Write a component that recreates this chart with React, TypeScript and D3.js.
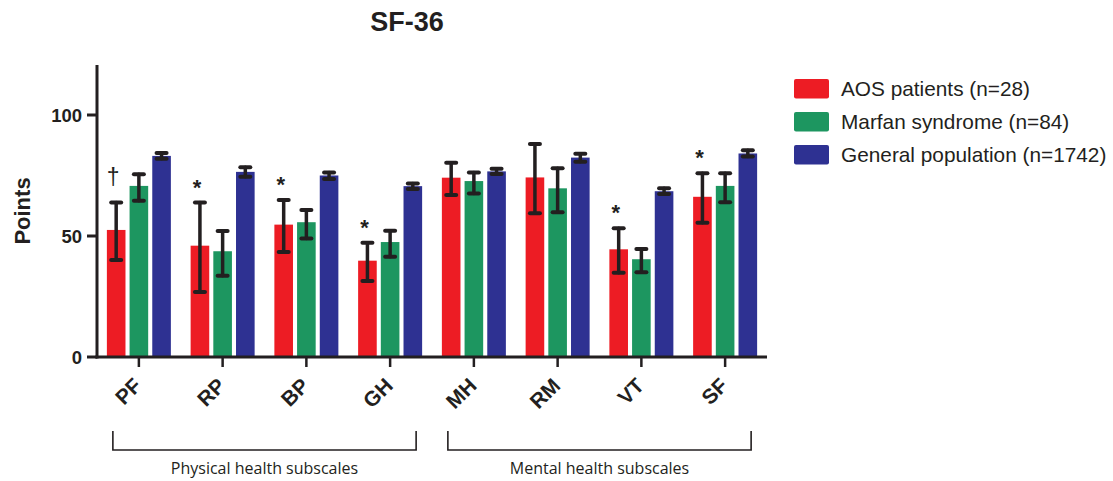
import React from 'react';
import * as d3 from 'd3';

const categories = ['PF', 'RP', 'BP', 'GH', 'MH', 'RM', 'VT', 'SF'];
const seriesNames = ['AOS patients (n=28)', 'Marfan syndrome (n=84)', 'General population (n=1742)'];
const aosMean = [52.5, 46, 54.7, 39.8, 74.1, 74.2, 44.5, 66.2];
const aosLow = [40.1, 26.9, 43.4, 31.4, 66.9, 59.4, 34.8, 55.5];
const aosHigh = [63.8, 63.8, 64.9, 47.2, 80.3, 88, 53.2, 75.9];
const marfanMean = [70.7, 43.7, 55.7, 47.5, 72.7, 69.7, 40.4, 70.7];
const marfanLow = [64.6, 33.6, 49, 41.4, 67.6, 59.8, 35, 63.9];
const marfanHigh = [75.5, 52.1, 60.7, 52.2, 76.2, 78, 44.6, 75.9];
const genMean = [83.1, 76.5, 75, 70.6, 76.7, 82.4, 68.5, 84.1];
const genLow = [81.9, 74.5, 73.6, 69.4, 75.6, 80.7, 67.4, 82.8];
const genHigh = [84.3, 78.4, 76.2, 71.7, 77.8, 84, 69.7, 85.4];
const significance = ['†', '*', '*', '*', '', '', '*', '*'];
const yTicks = [0, 50, 100];
const groupLabels = ['Physical health subscales', 'Mental health subscales'];
const groupFrom = ['PF', 'MH'];
const groupTo = ['GH', 'SF'];

const colors = ['#ED1C24', '#1D9660', '#2E3192'];
const ink = '#231F20';

export default function App() {
  const x = d3.scaleBand<string>().domain(categories).range([97, 767]).paddingInner(0).paddingOuter(0);
  const inner = d3.scaleBand<number>().domain([0, 1, 2]).range([-32, 32]).paddingInner(0.18).paddingOuter(0);
  const y = d3.scaleLinear().domain([0, 120]).range([357, 66.6]);
  const means = [aosMean, marfanMean, genMean];
  const lows = [aosLow, marfanLow, genLow];
  const highs = [aosHigh, marfanHigh, genHigh];
  const cx = (c: string) => (x(c) as number) + x.bandwidth() / 2;
  const bw = inner.bandwidth();
  const sans = '"Liberation Sans", Arial, sans-serif';

  return (
    <div style={{ position: 'absolute', left: 0, top: 0 }}>
      <svg width={1113} height={481} style={{ display: 'block', background: '#fff' }}>
        <text x={407} y={31} textAnchor="middle" fontFamily={sans} fontWeight="bold" fontSize={27} fill={ink}>SF-36</text>

        {/* bars */}
        {categories.map((c, i) => (
          <g key={c}>
            {[0, 1, 2].map((s) => {
              const bx = cx(c) + (inner(s) as number);
              return (
                <rect key={s} x={bx} y={y(means[s][i])} width={bw} height={y(0) - y(means[s][i])} fill={colors[s]} />
              );
            })}
            {[0, 1, 2].map((s) => {
              const mx = cx(c) + (inner(s) as number) + bw / 2;
              return (
                <g key={'e' + s} stroke={ink} strokeLinecap="round">
                  <line x1={mx} x2={mx} y1={y(highs[s][i])} y2={y(lows[s][i])} strokeWidth={3.5} />
                  <line x1={mx - 5} x2={mx + 5} y1={y(highs[s][i])} y2={y(highs[s][i])} strokeWidth={4} />
                  <line x1={mx - 5} x2={mx + 5} y1={y(lows[s][i])} y2={y(lows[s][i])} strokeWidth={4} />
                </g>
              );
            })}
            {significance[i] && (
              <text
                x={cx(c) + (inner(0) as number) + bw / 2 - 3}
                y={significance[i] === '*' ? y(aosHigh[i]) - 8 : y(aosHigh[i]) - 18}
                textAnchor="middle"
                fontFamily={sans}
                fontWeight={significance[i] === '*' ? 'bold' : 'normal'}
                fontSize={significance[i] === '*' ? 22 : 23}
                fill={ink}
              >
                {significance[i]}
              </text>
            )}
          </g>
        ))}

        {/* y axis */}
        <line x1={97} x2={97} y1={65} y2={358.5} stroke={ink} strokeWidth={3} />
        {yTicks.map((t) => (
          <g key={t}>
            <line x1={87} x2={97} y1={y(t)} y2={y(t)} stroke={ink} strokeWidth={3} />
            <text x={82} y={y(t) + 6.7} textAnchor="end" fontFamily={sans} fontWeight="bold" fontSize={18.5} fill={ink}>{t}</text>
          </g>
        ))}
        <text transform={`translate(30,211) rotate(-90)`} textAnchor="middle" fontFamily={sans} fontWeight="bold" fontSize={22} fill={ink}>Points</text>

        {/* x axis */}
        <line x1={95.5} x2={767} y1={357} y2={357} stroke={ink} strokeWidth={3} />
        {categories.map((c) => (
          <g key={'t' + c}>
            <line x1={cx(c)} x2={cx(c)} y1={357} y2={367} stroke={ink} strokeWidth={2.5} />
            <text transform={`translate(${cx(c) + 4},387) rotate(-45)`} textAnchor="end" fontFamily={sans} fontWeight="bold" fontSize={21} fill={ink}>{c}</text>
          </g>
        ))}

        {/* group brackets */}
        {groupLabels.map((g, k) => {
          const x0 = cx(groupFrom[k]) - 26;
          const x1 = cx(groupTo[k]) + 26;
          return (
            <g key={g}>
              <path d={`M${x0},431 V450 H${x1} V431`} fill="none" stroke={ink} strokeWidth={1.6} />
              <text x={(x0 + x1) / 2} y={474} textAnchor="middle" fontFamily='"Open Sans", sans-serif' fontSize={16} fill={ink}>{g}</text>
            </g>
          );
        })}

        {/* legend */}
        {seriesNames.map((n, s) => (
          <g key={n} transform={`translate(794,${79 + s * 33})`}>
            <rect x={0} y={0} width={35} height={19.5} rx={2} fill={colors[s]} />
            <text x={47} y={17} fontFamily={sans} fontSize={20.8} fill={ink}>{n}</text>
          </g>
        ))}
      </svg>
    </div>
  );
}
